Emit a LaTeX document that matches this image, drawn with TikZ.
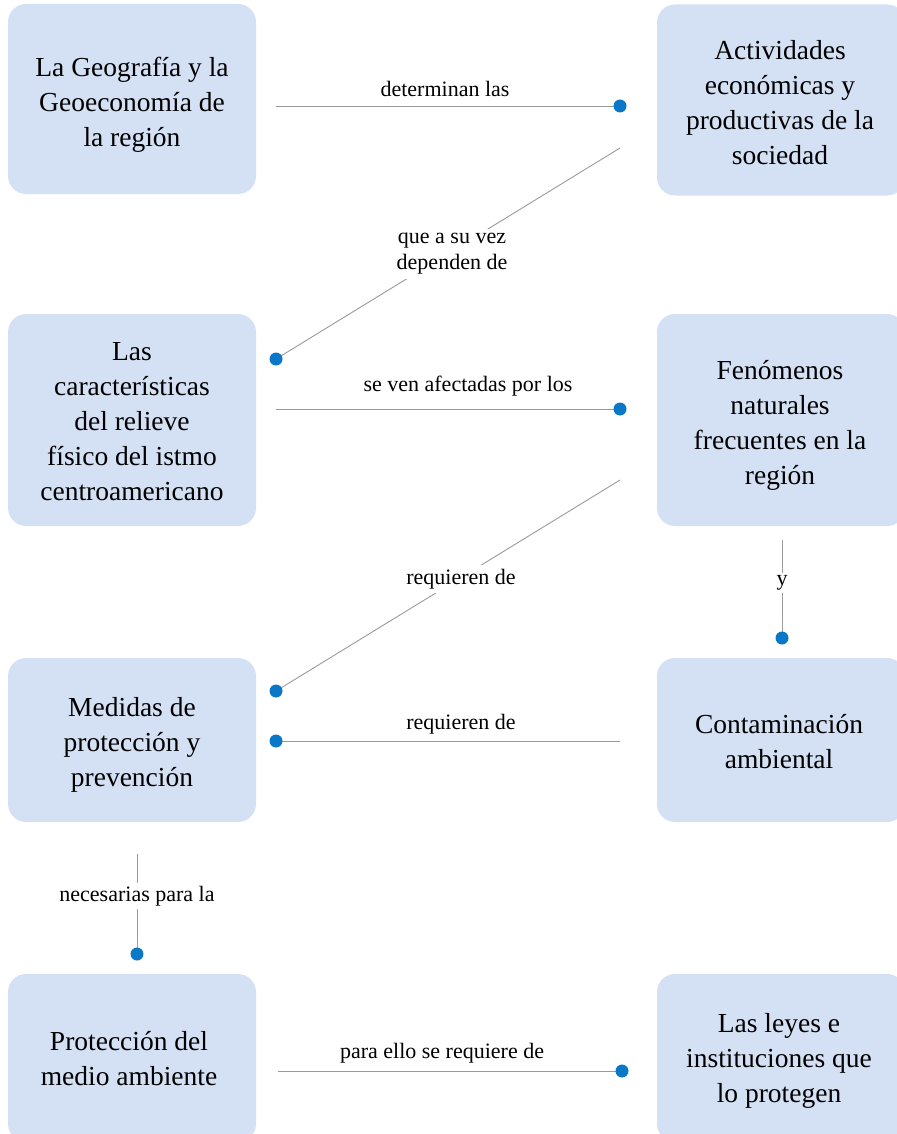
\documentclass[tikz,border=0pt]{standalone}
\usepackage{fontspec}
\setmainfont{Liberation Serif}
\definecolor{boxfill}{HTML}{D4E0F3}
\definecolor{dotc}{HTML}{0A78C6}
\definecolor{linec}{HTML}{9A9A9A}
\tikzset{
  cbox/.style={fill=boxfill, draw=none, rounded corners=18pt, minimum width=248pt, inner sep=0pt},
  btext/.style={align=center, font=\fontsize{27.5}{35}\selectfont, inner sep=0pt},
  lbl/.style={font=\fontsize{22}{26}\selectfont, align=center, inner sep=2pt},
  lblw/.style={lbl, fill=white, inner sep=4pt},
  conn/.style={draw=linec, line width=0.9pt},
  enddot/.style={fill=dotc}
}
\begin{document}
\begin{tikzpicture}[x=1pt,y=-1pt]
\useasboundingbox (0,0) rectangle (896,1134);
% boxes
\node[cbox, minimum height=190pt] (geo) at (132,99) {};
\node[cbox, minimum height=191pt] (act) at (781,100) {};
\node[cbox, minimum height=212pt] (rel) at (132,420) {};
\node[cbox, minimum height=212pt] (fen) at (781,420) {};
\node[cbox, minimum height=164pt] (med) at (132,740) {};
\node[cbox, minimum height=164pt] (con) at (781,740) {};
\node[cbox, minimum height=168pt] (pro) at (132,1058) {};
\node[cbox, minimum height=168pt] (ley) at (781,1058) {};
% box texts
\node[btext] (geot) at (132,105) {La Geografía y la\\Geoeconomía de\\la región};
\node[btext] (actt) at (780,102.5) {Actividades\\económicas y\\productivas de la\\sociedad};
\node[btext] (relt) at (132,422) {Las\\características\\del relieve\\físico del istmo\\centroamericano};
\node[btext] (fent) at (780,425) {Fenómenos\\naturales\\frecuentes en la\\región};
\node[btext] (medt) at (132,745) {Medidas de\\protección y\\prevención};
\node[btext] (cont) at (779,741.5) {Contaminación\\ambiental};
\node[btext] (prot) at (129,1058.5) {Protección del\\medio ambiente};
\node[btext] (leyt) at (779,1061) {Las leyes e\\instituciones que\\lo protegen};
% connector endpoints
\coordinate (c1s) at (276,106); \coordinate (c1e) at (620,106);
\coordinate (c2s) at (620,148); \coordinate (c2e) at (276,359);
\coordinate (c3s) at (276,409); \coordinate (c3e) at (620,409);
\coordinate (c4s) at (620,480); \coordinate (c4e) at (276,691);
\coordinate (c5s) at (620,741); \coordinate (c5e) at (276,741);
\coordinate (c6s) at (782,540); \coordinate (c6e) at (782,638);
\coordinate (c7s) at (137,854); \coordinate (c7e) at (137,954);
\coordinate (c8s) at (278,1071); \coordinate (c8e) at (622,1071);
% connectors
\draw[conn] (c1s) -- (c1e);
\draw[conn] (c2s) -- (c2e);
\draw[conn] (c3s) -- (c3e);
\draw[conn] (c4s) -- (c4e);
\draw[conn] (c5s) -- (c5e);
\draw[conn] (c6s) -- (c6e);
\draw[conn] (c7s) -- (c7e);
\draw[conn] (c8s) -- (c8e);
% dots
\foreach \p in {c1e,c2e,c3e,c4e,c5e,c6e,c7e,c8e} \fill[enddot] (\p) circle (6.5pt);
% labels
\node[lbl] (l1) at (445,89) {determinan las};
\node[lblw] (l2) at (452,254) {que a su vez\\dependen de};
\node[lbl] (l3) at (468,386) {se ven afectadas por los};
\node[lblw] (l4) at (461,579) {requieren de};
\node[lbl] (l5) at (461,724) {requieren de};
\node[lblw, inner sep=3pt] (l6) at (782,583) {y};
\node[lblw, inner sep=3pt] (l7) at (137,896) {necesarias para la};
\node[lbl] (l8) at (442,1053) {para ello se requiere de};
\end{tikzpicture}
\end{document}
